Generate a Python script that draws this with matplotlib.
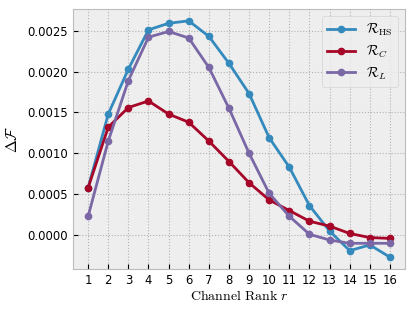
import matplotlib
matplotlib.use("Agg")
import matplotlib.pyplot as plt
import numpy as np

plt.style.use("bmh")
plt.rcParams["mathtext.fontset"] = "cm"

ranks = np.arange(1, 17)
r_hs = [0.00058, 0.00148, 0.00203, 0.00251, 0.00259, 0.00262, 0.00243, 0.00210,
        0.00173, 0.00119, 0.00083, 0.00036, 0.00005, -0.00019, -0.00012, -0.00027]
r_c = [0.00058, 0.00132, 0.00156, 0.00164, 0.00148, 0.00138, 0.00115, 0.00090,
       0.00064, 0.00043, 0.00030, 0.00017, 0.00011, 0.00002, -0.00003, -0.00004]
r_l = [0.00023, 0.00115, 0.00189, 0.00242, 0.00249, 0.00241, 0.00205, 0.00155,
       0.00100, 0.00051, 0.00023, 0.00001, -0.00006, -0.00010, -0.00010, -0.00010]

fig, ax = plt.subplots(figsize=(4.15, 3.11), dpi=100)
ax.plot(ranks, r_hs, marker="o", markersize=4.5, label=r"$\mathcal{R}_{\mathrm{HS}}$")
ax.plot(ranks, r_c, marker="o", markersize=4.5, label=r"$\mathcal{R}_C$")
ax.plot(ranks, r_l, marker="o", markersize=4.5, label=r"$\mathcal{R}_L$")

ax.set_xticks(ranks)
ax.tick_params(labelsize=8.4)
ax.set_xlabel(r"$\mathrm{Channel\ Rank}\ r$", fontsize=10, labelpad=1.5)
ax.set_ylabel(r"$\Delta\mathcal{F}$", fontsize=11, labelpad=5)
ax.legend(loc="upper right", fontsize=10, labelspacing=0.4)
ax.grid(True, linestyle=":", color="#b2b2b2", linewidth=0.8)

fig.subplots_adjust(left=0.176, right=0.976, top=0.971, bottom=0.135)
fig.savefig("out.png", dpi=100)
